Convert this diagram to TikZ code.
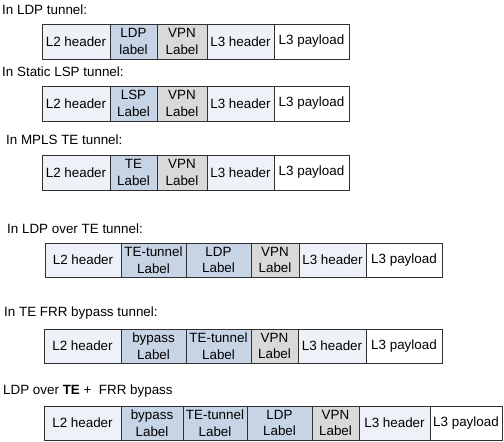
\documentclass[tikz,border=0pt]{standalone}
\usepackage{fontspec}
\setmainfont{Liberation Sans}
\definecolor{hdr}{HTML}{EEF2F8}
\definecolor{lbl}{HTML}{C6D4E6}
\definecolor{vpn}{HTML}{D9D9D9}
\definecolor{edge}{HTML}{303030}
\tikzset{
  cellbox/.style={draw=edge, line width=0.8pt, inner sep=0pt, align=center,
    font=\fontsize{13.4}{16.5}\selectfont},
  hdrcell/.style={cellbox, fill=hdr},
  lblcell/.style={cellbox, fill=lbl},
  vpncell/.style={cellbox, fill=vpn},
  paycell/.style={cellbox, fill=white},
  titletext/.style={anchor=west, inner sep=0pt, font=\fontsize{13.4}{16}\selectfont}
}
% \mkcell{name}{x1}{x2}{y1}{y2}{style}{text}
\newcommand\mkcell[7]{%
  \node[#6, minimum width={(#3-#2)*1pt}, minimum height={(#5-#4)*1pt}]
    (#1) at ({(#2+#3)/2},{(#4+#5)/2}) {#7};}
\begin{document}
\begin{tikzpicture}[x=1pt,y=-1pt]
\useasboundingbox (0,0) rectangle (504,442);

% Row 1
\node[titletext] (t1) at (2,10) {In LDP tunnel:};
\mkcell{a1}{42}{110}{24}{59}{hdrcell}{L2 header}
\mkcell{a2}{110}{157}{24}{59}{lblcell}{LDP\\label}
\mkcell{a3}{157}{207}{24}{59}{vpncell}{VPN\\Label}
\mkcell{a4}{207}{274}{24}{59}{hdrcell}{L3 header}
\mkcell{a5}{274}{349}{24}{59}{paycell}{L3 payload}

% Row 2
\node[titletext] (t2) at (2,72) {In Static LSP tunnel:};
\mkcell{b1}{42}{110}{86}{121}{hdrcell}{L2 header}
\mkcell{b2}{110}{157}{86}{121}{lblcell}{LSP\\Label}
\mkcell{b3}{157}{207}{86}{121}{vpncell}{VPN\\Label}
\mkcell{b4}{207}{274}{86}{121}{hdrcell}{L3 header}
\mkcell{b5}{274}{349}{86}{121}{paycell}{L3 payload}

% Row 3
\node[titletext] (t3) at (6,140) {In MPLS TE tunnel:};
\mkcell{c1}{42}{110}{155}{190}{hdrcell}{L2 header}
\mkcell{c2}{110}{157}{155}{190}{lblcell}{TE\\Label}
\mkcell{c3}{157}{207}{155}{190}{vpncell}{VPN\\Label}
\mkcell{c4}{207}{274}{155}{190}{hdrcell}{L3 header}
\mkcell{c5}{274}{349}{155}{190}{paycell}{L3 payload}

% Row 4
\node[titletext] (t4) at (7,229) {In LDP over TE tunnel:};
\mkcell{d1}{45}{121}{243}{277}{hdrcell}{L2 header}
\mkcell{d2}{121}{186}{243}{277}{lblcell}{TE-tunnel\\Label}
\mkcell{d3}{186}{251}{243}{277}{lblcell}{LDP\\Label}
\mkcell{d4}{251}{299}{243}{277}{vpncell}{VPN\\Label}
\mkcell{d5}{299}{366}{243}{277}{hdrcell}{L3 header}
\mkcell{d6}{366}{442}{243}{277}{paycell}{L3 payload}

% Row 5
\node[titletext] (t5) at (4,313) {In TE FRR bypass tunnel:};
\mkcell{e1}{44}{121}{329}{363}{hdrcell}{L2 header}
\mkcell{e2}{121}{186}{329}{363}{lblcell}{bypass\\Label}
\mkcell{e3}{186}{251}{329}{363}{lblcell}{TE-tunnel\\Label}
\mkcell{e4}{251}{298}{329}{363}{vpncell}{VPN\\Label}
\mkcell{e5}{298}{366}{329}{363}{hdrcell}{L3 header}
\mkcell{e6}{366}{442}{329}{363}{paycell}{L3 payload}

% Row 6
\node[titletext] (t6) at (3,391) {LDP over \textbf{TE} +~ FRR bypass};
\mkcell{f1}{44}{121}{406}{440}{hdrcell}{L2 header}
\mkcell{f2}{121}{183}{406}{440}{lblcell}{bypass\\Label}
\mkcell{f3}{183}{247}{406}{440}{lblcell}{TE-tunnel\\Label}
\mkcell{f4}{247}{312}{406}{440}{lblcell}{LDP\\Label}
\mkcell{f5}{312}{359}{406}{440}{vpncell}{VPN\\Label}
\mkcell{f6}{359}{430}{406}{440}{hdrcell}{L3 header}
\mkcell{f7}{430}{502}{406}{440}{paycell}{L3 payload}
\end{tikzpicture}
\end{document}
